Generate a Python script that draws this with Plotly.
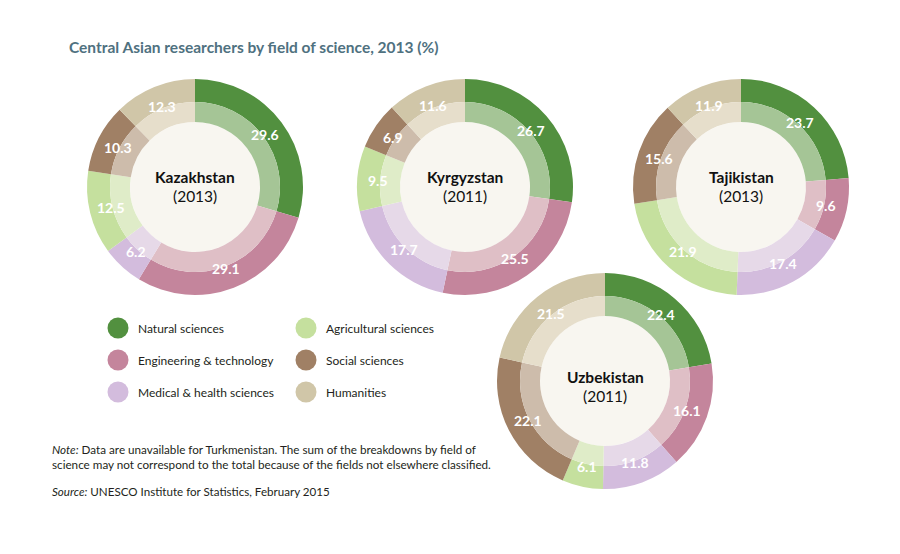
import math
import plotly.graph_objects as go

W, H = 900, 554

fields = ["Natural sciences", "Engineering & technology", "Medical & health sciences",
          "Agricultural sciences", "Social sciences", "Humanities"]
dark = ["#52903f", "#c4859c", "#d3bcdd", "#c5e09e", "#a08065", "#d0c6a8"]
light = ["#a5c596", "#dfbfc6", "#e6d9e8", "#dfecc8", "#cdbcab", "#e6decb"]

countries = ["Kazakhstan", "Kyrgyzstan", "Tajikistan", "Uzbekistan"]
years = ["2013", "2011", "2013", "2011"]
kazakhstan = [29.6, 29.1, 6.2, 12.5, 10.3, 12.3]
kyrgyzstan = [26.7, 25.5, 17.7, 9.5, 6.9, 11.6]
tajikistan = [23.7, 9.6, 17.4, 21.9, 15.6, 11.9]
uzbekistan = [22.4, 16.1, 11.8, 6.1, 22.1, 21.5]
values = [kazakhstan, kyrgyzstan, tajikistan, uzbekistan]

# layout (pixels)
centers = [(195, 187), (465, 187), (741, 187), (605, 381)]
text_dy = [0, 0, 0, 6]
R_OUT, R_MID, R_IN, R_LAB = 108, 85, 65, 87

FONT = "Lato"

fig = go.Figure()
shapes = []
annotations = []


def px(x):
    return x / W


def py(y):
    return 1 - y / H


for name, year, vals, (cx, cy), tdy in zip(countries, years, values, centers, text_dy):
    for R, hole, cols in ((R_OUT, R_MID / R_OUT, dark), (R_MID, R_IN / R_MID, light)):
        fig.add_trace(go.Pie(
            values=vals, labels=fields, sort=False, direction="clockwise", rotation=0,
            hole=hole, marker=dict(colors=cols, line=dict(width=0)),
            textinfo="none", hoverinfo="label+value", showlegend=False,
            domain=dict(x=[px(cx - R), px(cx + R)], y=[py(cy + R), py(cy - R)]),
        ))
    shapes.append(dict(type="circle", xref="paper", yref="paper",
                       x0=px(cx - R_IN), x1=px(cx + R_IN), y0=py(cy + R_IN), y1=py(cy - R_IN),
                       fillcolor="#f8f6f0", line=dict(width=0), layer="below"))
    total = sum(vals)
    cum = 0
    for v in vals:
        th = 2 * math.pi * (cum + v / 2) / total
        cum += v
        annotations.append(dict(
            x=px(cx + R_LAB * math.sin(th)), y=py(cy - R_LAB * math.cos(th)),
            xref="paper", yref="paper", text=f"{v:.1f}", showarrow=False,
            font=dict(family=FONT, size=14, color="white", weight="bold"),
            xanchor="center", yanchor="middle"))
    annotations.append(dict(x=px(cx), y=py(cy - 10 + tdy), xref="paper", yref="paper",
                            text=f"<b>{name}</b>", showarrow=False,
                            font=dict(family=FONT, size=15.5, color="#111111"),
                            xanchor="center", yanchor="middle"))
    annotations.append(dict(x=px(cx), y=py(cy + 9 + tdy), xref="paper", yref="paper",
                            text=f"({year})", showarrow=False,
                            font=dict(family=FONT, size=15.5, color="#111111"),
                            xanchor="center", yanchor="middle"))

# legend
leg_pos = [(118, 328), (118, 360), (118, 392), (306, 328), (306, 360), (306, 392)]
for i, (lx, ly) in enumerate(leg_pos):
    r = 10.5
    shapes.append(dict(type="circle", xref="paper", yref="paper",
                       x0=px(lx - r), x1=px(lx + r), y0=py(ly + r), y1=py(ly - r),
                       fillcolor=dark[i], line=dict(width=0)))
    annotations.append(dict(x=px(lx + 18), y=py(ly), xref="paper", yref="paper",
                            text=fields[i], showarrow=False, xanchor="left", yanchor="middle",
                            font=dict(family=FONT, size=12, color="#231f20")))

# title
annotations.append(dict(x=px(67), y=py(47), xref="paper", yref="paper",
                        text="<b>Central Asian researchers by field of science, 2013 (%)</b>",
                        showarrow=False, xanchor="left", yanchor="middle",
                        font=dict(family=FONT, size=15.5, color="#4f7180")))

# notes
annotations.append(dict(x=px(50), y=py(456), xref="paper", yref="paper",
                        text="<i>Note:</i> Data are unavailable for Turkmenistan. The sum of the breakdowns by field of<br>"
                             "science may not correspond to the total because of the fields not elsewhere classified.",
                        showarrow=False, xanchor="left", yanchor="middle", align="left",
                        font=dict(family=FONT, size=11.7, color="#231f20")))
annotations.append(dict(x=px(50), y=py(491), xref="paper", yref="paper",
                        text="<i>Source:</i> UNESCO Institute for Statistics, February 2015",
                        showarrow=False, xanchor="left", yanchor="middle",
                        font=dict(family=FONT, size=11.6, color="#231f20")))

fig.update_layout(width=W, height=H, margin=dict(l=0, r=0, t=0, b=0),
                  paper_bgcolor="white", plot_bgcolor="white",
                  shapes=shapes, annotations=annotations)
fig.write_html("out.html", config={"displayModeBar": False},
               post_script="document.body.style.margin='0';document.body.style.overflow='hidden';")
